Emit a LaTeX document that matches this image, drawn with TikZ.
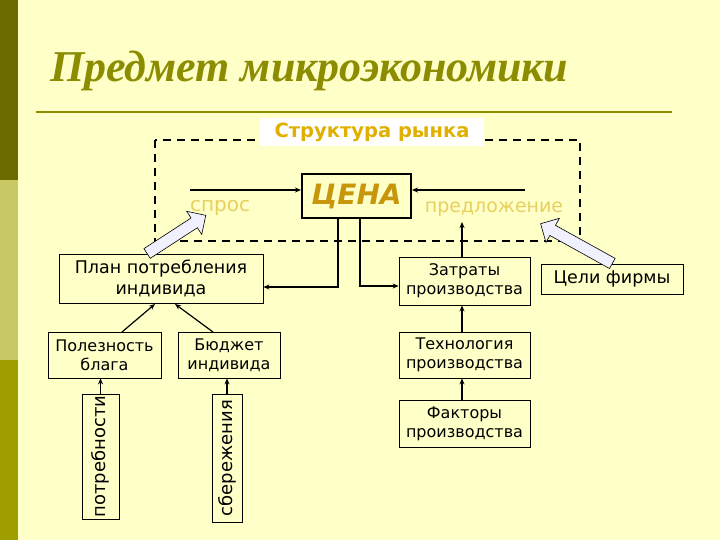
\documentclass[tikz,border=0pt]{standalone}
\usepackage{fontspec}
\setmainfont{DejaVu Sans}
\newfontfamily\titlefont{Liberation Serif}
\usetikzlibrary{shapes.arrows,arrows.meta}
\definecolor{bg}{HTML}{FFFFC8}
\definecolor{barA}{HTML}{6B6B00}
\definecolor{barB}{HTML}{C8C864}
\definecolor{barC}{HTML}{9E9E00}
\definecolor{olive}{HTML}{8C8C00}
\definecolor{orng}{HTML}{E0B000}
\definecolor{cenac}{HTML}{C8960A}
\definecolor{pale}{HTML}{E8D060}
\definecolor{lav}{HTML}{F0F0FF}
\tikzset{
 box/.style={draw, line width=0.8pt, align=center, font=\fontsize{16}{19}\selectfont, inner sep=0pt},
 arr/.style={-{Stealth[length=6pt,width=5pt]}, line width=1.2pt},
 fat/.style={single arrow, draw, fill=lav, line width=0.6pt, single arrow head extend=8pt, single arrow head indent=0pt, inner xsep=0pt, inner ysep=0pt}
}
\begin{document}
\begin{tikzpicture}[x=1pt,y=-1pt]
\fill[bg] (0,0) rectangle (720,540);
\useasboundingbox (0,0) rectangle (720,540);
\fill[barA] (0,0) rectangle (18,180);
\fill[barB] (0,180) rectangle (18,360);
\fill[barC] (0,360) rectangle (18,540);
\node[anchor=base west, text=olive, inner sep=0pt, font=\titlefont\bfseries\itshape\fontsize{44}{48}\selectfont] (title) at (50,82) {Предмет микроэкономики};
\draw[olive, line width=1.5pt] (36,112) -- (672,112);
% dashed frame
\draw[line width=1.3pt, dash pattern=on 8pt off 6pt] (155,140) rectangle (580,241);
\node[fill=white, text=orng, font=\bfseries\fontsize{19.5}{22}\selectfont, minimum width=224pt, minimum height=28pt, inner sep=0pt] (struct) at (372,132) {Структура рынка};
% ЦЕНА
\node[draw, line width=2pt, fill=bg, minimum width=109pt, minimum height=44pt, text=cenac, font=\bfseries\itshape\fontsize{28}{30}\selectfont, inner sep=0pt] (cena) at (356.5,196) {ЦЕНА};
\coordinate (sl) at (190,190);
\coordinate (pl) at (525,190);
\draw[arr, line width=2pt] (sl) -- (cena.west |- sl);
\draw[arr, line width=2pt] (pl) -- (cena.east |- pl);
\node[text=pale, font=\fontsize{20}{22}\selectfont] (spros) at (220,208) {спрос};
\node[text=pale, font=\fontsize{19}{21}\selectfont] (pred) at (494,209) {предложение};
% consumer side
\node[box, minimum width=204pt, minimum height=49pt, font=\fontsize{17.5}{21}\selectfont] (plan) at (161,278.5) {План потребления\\индивида};
\node[box, minimum width=113pt, minimum height=46pt] (polez) at (104.5,355) {Полезность\\блага};
\node[box, minimum width=102pt, minimum height=46pt] (budg) at (229,355) {Бюджет\\индивида};
\node[box, minimum width=125pt, minimum height=37pt, rotate=90, font=\fontsize{18}{20}\selectfont] (potr) at (100.5,456.5) {потребности};
\node[box, minimum width=128pt, minimum height=30pt, rotate=90, font=\fontsize{18}{20}\selectfont] (sber) at (227,458) {сбережения};
\draw[arr] (122,332) -- (155,304);
\draw[arr] (213,332) -- (175,304);
\draw[arr] (potr.east) -- (polez.south -| potr.east);
\draw[arr] (sber.east) -- (budg.south -| sber.east);
% producer side
\node[box, minimum width=131pt, minimum height=48pt] (zatr) at (464.5,281) {Затраты\\производства};
\node[box, minimum width=131pt, minimum height=46pt] (tech) at (464.5,355) {Технология\\производства};
\node[box, minimum width=131pt, minimum height=47pt] (fact) at (464.5,423.5) {Факторы\\производства};
\node[box, minimum width=142pt, minimum height=30pt, font=\fontsize{17.5}{20}\selectfont] (goal) at (612,279) {Цели фирмы};
\coordinate (ptop) at (462,222);
\draw[arr] (zatr.north -| ptop) -- (ptop);
\draw[arr] (tech.north -| ptop) -- (zatr.south -| ptop);
\draw[arr] (fact.north -| ptop) -- (tech.south -| ptop);
% price connectors
\coordinate (c1) at (338,287);
\coordinate (c2) at (360,286);
\draw[arr] (cena.south -| c1) -- (c1) -- (plan.east |- c1);
\draw[arr] (cena.south -| c2) -- (c2) -- (zatr.west |- c2);
% fat arrows
\node[fat, minimum height=70pt, rotate=33] (fa1) at (174,236) {\rule{0pt}{11pt}};
\node[fat, minimum height=82pt, rotate=151] (fa2) at (579,245) {\rule{0pt}{11pt}};
\end{tikzpicture}
\end{document}
